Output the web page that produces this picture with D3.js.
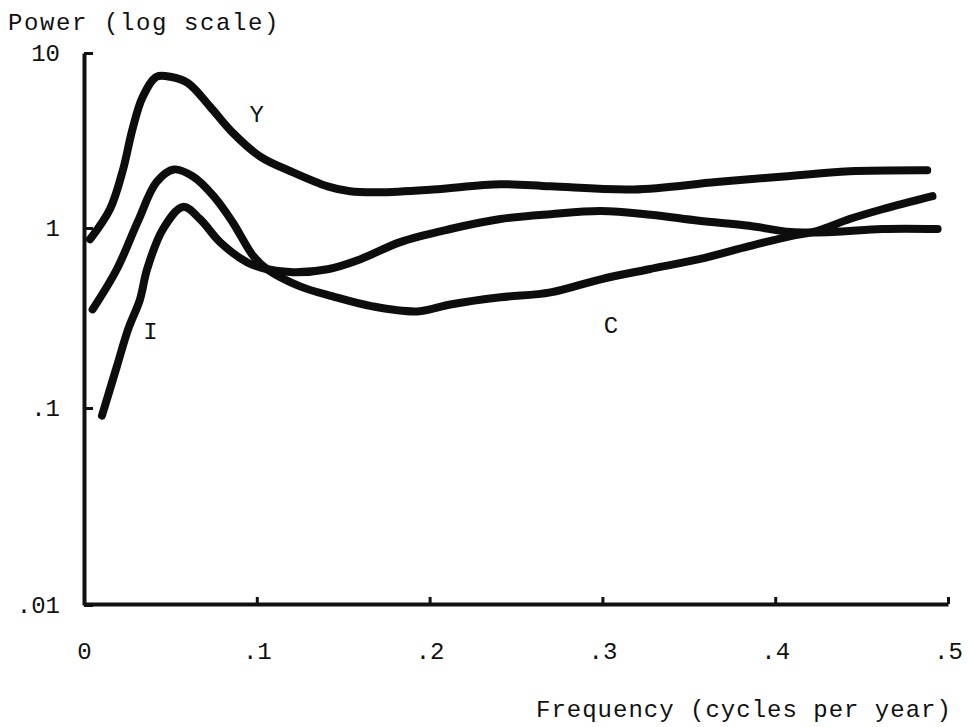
<!DOCTYPE html>
<html>
<head>
<meta charset="utf-8">
<script src="https://cdn.jsdelivr.net/npm/d3@7"></script>
<style>
  html, body { margin: 0; padding: 0; background: #fff; }
  svg text { font-family: "Liberation Mono", "DejaVu Sans Mono", monospace; fill: #111; }
</style>
</head>
<body>
<svg id="chart" width="969" height="727"></svg>
<script>
// Frequency (cycles per year) and power (log scale)
const freqY = [0.0035, 0.015, 0.0226, 0.028, 0.034, 0.042, 0.050, 0.060, 0.073, 0.086, 0.102, 0.121, 0.141, 0.154, 0.171, 0.202, 0.241, 0.270, 0.318, 0.366, 0.405, 0.443, 0.488];
const powerY = [0.866, 1.28, 2.16, 3.65, 5.62, 7.31, 7.31, 6.75, 4.93, 3.51, 2.56, 2.08, 1.73, 1.62, 1.60, 1.66, 1.78, 1.73, 1.66, 1.83, 1.97, 2.11, 2.14];

const freqC = [0.005, 0.019, 0.031, 0.042, 0.052, 0.063, 0.075, 0.086, 0.098, 0.106, 0.125, 0.144, 0.167, 0.193, 0.212, 0.241, 0.270, 0.299, 0.327, 0.356, 0.385, 0.409, 0.424, 0.443, 0.462, 0.491];
const powerC = [0.353, 0.590, 1.08, 1.83, 2.16, 1.97, 1.52, 1.08, 0.698, 0.590, 0.474, 0.417, 0.367, 0.344, 0.376, 0.412, 0.439, 0.519, 0.590, 0.671, 0.793, 0.902, 0.962, 1.125, 1.28, 1.52];

const freqI = [0.0104, 0.019, 0.0255, 0.0324, 0.0365, 0.0457, 0.0573, 0.0671, 0.0787, 0.0943, 0.106, 0.121, 0.141, 0.160, 0.183, 0.212, 0.241, 0.270, 0.299, 0.328, 0.356, 0.385, 0.409, 0.433, 0.462, 0.494];
const powerI = [0.0914, 0.170, 0.273, 0.401, 0.590, 0.987, 1.32, 1.125, 0.835, 0.646, 0.590, 0.568, 0.590, 0.671, 0.835, 0.987, 1.125, 1.20, 1.25, 1.19, 1.10, 1.03, 0.95, 0.95, 0.987, 0.987];

const xTicks = [0, 0.1, 0.2, 0.3, 0.4, 0.5];
const xTickLabels = ["0", ".1", ".2", ".3", ".4", ".5"];
const yTicks = [0.01, 0.1, 1, 10];
const yTickLabels = [".01", ".1", "1", "10"];

const seriesLabels = [
  { name: "Y", f: 0.100, p: 4.4 },
  { name: "I", f: 0.0385, p: 0.262 },
  { name: "C", f: 0.305, p: 0.285 }
];

const svg = d3.select("#chart");

const x = d3.scaleLinear().domain([0, 0.5]).range([84, 948]);
// hand-drawn decades are slightly uneven: piecewise log scale
const y = d3.scaleLog().domain([0.01, 0.1, 1, 10]).range([605, 408, 228, 53]);

// Y axis
const yAxis = d3.axisLeft(y)
  .tickValues(yTicks)
  .tickFormat((d, i) => yTickLabels[i])
  .tickSizeInner(-9)
  .tickSizeOuter(0)
  .tickPadding(24);
const gy = svg.append("g").attr("transform", "translate(84,0)").call(yAxis);
gy.select(".domain").attr("stroke", "#111").attr("stroke-width", 4);
gy.selectAll(".tick line").attr("stroke", "#111").attr("stroke-width", 3);
gy.selectAll(".tick text").attr("font-size", 24).attr("font-family", "Liberation Mono, monospace").attr("fill", "#111");

// X axis
const xAxis = d3.axisBottom(x)
  .tickValues(xTicks)
  .tickFormat((d, i) => xTickLabels[i])
  .tickSizeInner(-7)
  .tickSizeOuter(0)
  .tickPadding(38);
const gx = svg.append("g").attr("transform", "translate(0,604)").call(xAxis);
gx.select(".domain").attr("stroke", "#111").attr("stroke-width", 4);
gx.selectAll(".tick line").attr("stroke", "#111").attr("stroke-width", 3);
gx.selectAll(".tick text").attr("font-size", 24).attr("font-family", "Liberation Mono, monospace").attr("fill", "#111");

// Curves
const line = d3.line()
  .x(d => x(d[0]))
  .y(d => y(d[1]))
  .curve(d3.curveCatmullRom.alpha(0.5));

const series = [
  d3.zip(freqY, powerY),
  d3.zip(freqC, powerC),
  d3.zip(freqI, powerI)
];

svg.append("g").selectAll("path")
  .data(series)
  .join("path")
  .attr("d", line)
  .attr("fill", "none")
  .attr("stroke", "#0d0d0d")
  .attr("stroke-width", 8)
  .attr("stroke-linecap", "round")
  .attr("stroke-linejoin", "round");

// Curve labels
svg.append("g").selectAll("text")
  .data(seriesLabels)
  .join("text")
  .attr("x", d => x(d.f))
  .attr("y", d => y(d.p))
  .attr("text-anchor", "middle")
  .attr("dominant-baseline", "central")
  .attr("font-size", 24)
  .text(d => d.name);

// Axis titles
svg.append("text")
  .attr("x", 8).attr("y", 30)
  .attr("font-size", 24)
  .attr("letter-spacing", 1.6)
  .text("Power (log scale)");

svg.append("text")
  .attr("x", 536).attr("y", 717)
  .attr("font-size", 24)
  .attr("letter-spacing", 1.0)
  .text("Frequency (cycles per year)");
</script>
</body>
</html>
